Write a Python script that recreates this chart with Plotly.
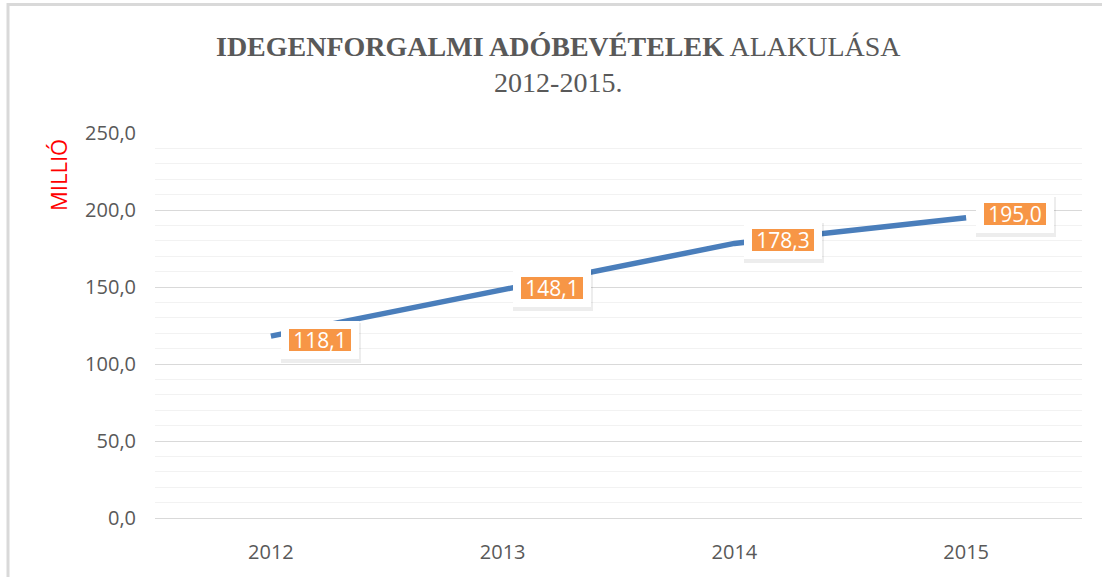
import plotly.graph_objects as go

years = ["2012", "2013", "2014", "2015"]
values = [118.1, 148.1, 178.3, 195.0]
value_labels = ["118,1", "148,1", "178,3", "195,0"]
label_yshift = [-4, 2, 3, 4]

y_ticks = [0, 50, 100, 150, 200, 250]
y_ticktext = ["0,0", "50,0", "100,0", "150,0", "200,0", "250,0"]

W, H = 1102, 577
L, R, T, B = 155, 20, 133, 59
pw, ph = W - L - R, H - T - B

def px(x):
    return (x - L) / pw

def py(y):
    return (H - B - y) / ph

fig = go.Figure()
fig.add_trace(go.Scatter(
    x=years, y=values, mode="lines",
    line=dict(color="#4A7EBB", width=5.5),
    hoverinfo="skip", showlegend=False,
))

annotations = []
for i, (v, lab, ys) in enumerate(zip(values, value_labels, label_yshift)):
    # soft shadow behind the white label box
    annotations.append(dict(
        x=i, y=v, xref="x", yref="y", text=" ", showarrow=False,
        font=dict(family="Open Sans", size=20, color="rgba(0,0,0,0)"),
        bgcolor="rgba(0,0,0,0.07)", bordercolor="rgba(0,0,0,0.07)",
        borderwidth=9, borderpad=0, width=62, height=22,
        xshift=50, yshift=ys - 3,
    ))
    annotations.append(dict(
        x=i, y=v, xref="x", yref="y", text=lab, showarrow=False,
        font=dict(family="Open Sans", size=21, color="#FFFFFF"),
        bgcolor="#F79646", bordercolor="#FFFFFF",
        borderwidth=8, borderpad=0, width=62, height=22,
        xshift=49, yshift=ys,
    ))

annotations.append(dict(
    x=px(58), y=py(175), xref="paper", yref="paper",
    text="MILLIÓ", showarrow=False, textangle=-90,
    font=dict(family="Open Sans", size=22, color="#FF0000"),
    xanchor="center", yanchor="middle",
))

annotations.append(dict(
    x=px(558), y=py(64), xref="paper", yref="paper",
    text="<b>IDEGENFORGALMI ADÓBEVÉTELEK</b> ALAKULÁSA<br>2012-2015.",
    showarrow=False, align="center",
    font=dict(family="Liberation Serif", size=28, color="#595959"),
    xanchor="center", yanchor="middle",
))

fig.update_layout(
    width=W, height=H,
    margin=dict(l=L, r=R, t=T, b=B, pad=0),
    paper_bgcolor="white", plot_bgcolor="white",
    annotations=annotations,
    shapes=[dict(
        type="path", xref="paper", yref="paper",
        path=f"M {px(8)} {py(600)} L {px(8)} {py(4.5)} L {px(1200)} {py(4.5)}",
        line=dict(color="#D9D9D9", width=3),
    )],
    xaxis=dict(
        type="category", range=[-0.5, 3.5],
        showgrid=False, zeroline=False,
        showline=True, linecolor="#D9D9D9", linewidth=1,
        ticks="", ticklabelstandoff=16,
        tickfont=dict(family="Open Sans", size=20, color="#595959"),
    ),
    yaxis=dict(
        range=[0, 250], tickvals=y_ticks, ticktext=y_ticktext,
        showgrid=True, gridcolor="#D9D9D9", gridwidth=1,
        zeroline=False, showline=False, ticks="",
        ticklabelstandoff=18,
        tickfont=dict(family="Open Sans", size=20, color="#595959"),
        minor=dict(dtick=10, showgrid=True, gridcolor="#F2F2F2", gridwidth=1),
    ),
)

fig.write_html(
    "out.html",
    config={"displayModeBar": False},
    post_script="document.body.style.margin='0';document.body.style.overflow='hidden';",
)
